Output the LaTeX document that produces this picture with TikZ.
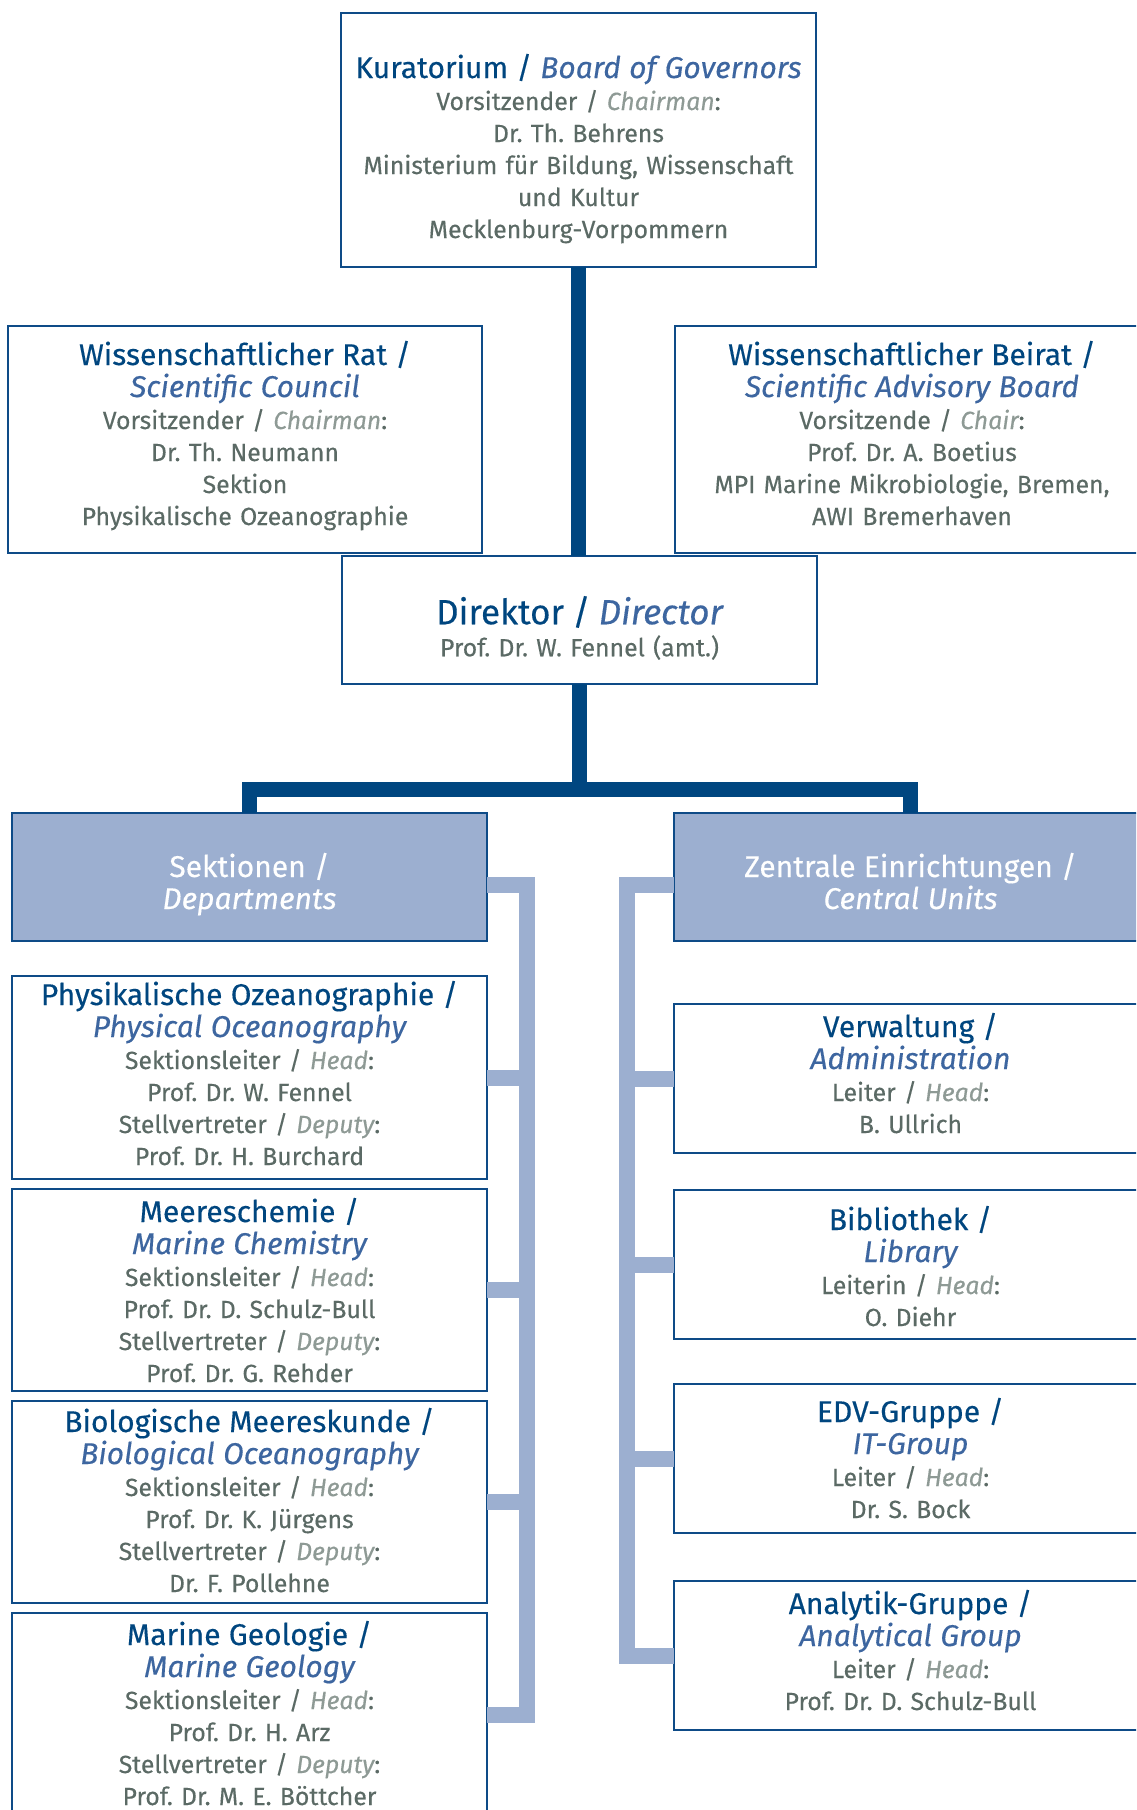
\documentclass[tikz,border=0pt]{standalone}
\usepackage{fontspec}
\setmainfont{Fira Sans}[UprightFeatures={FakeBold=0.3},ItalicFeatures={FakeBold=0.3}]
\setlength\parindent{0pt}
\frenchspacing
\definecolor{tblue}{HTML}{00467F}
\definecolor{iblue}{HTML}{3D66A0}
\definecolor{gtxt}{HTML}{5B6A65}
\definecolor{gital}{HTML}{8E9A95}
\definecolor{bord}{HTML}{0E4B87}
\definecolor{dblue}{HTML}{004680}
\definecolor{lblue}{HTML}{9CAFD0}
\newcommand\tsz{\fontsize{30}{32}\selectfont}
\newcommand\bsz{\fontsize{24.8}{32}\selectfont}
\newcommand\dsz{\fontsize{35}{32}\selectfont}
\newcommand\ttx[1]{{\tsz\color{tblue}#1}}
\newcommand\itx[1]{{\tsz\color{iblue}\itshape #1}}
\newcommand\gtx[1]{{\color{gital}\itshape #1}}
% box: name, style, x1, y1, x2, y2
\newcommand\mkbox[6]{\node[#2, minimum width={(#5)-(#3)}, minimum height={(#6)-(#4)}] (#1) at ({(#3+#5)/2},{(#4+#6)/2}) {};}
% text: name, x centre, first baseline, content
\newcommand\mktxt[4]{\node[txt] (#1) at (#2,{#3-26}) {\frenchspacing\lineskiplimit=-60pt\rule{0pt}{26pt}#4};}
\begin{document}
\begin{tikzpicture}[x=1pt,y=-1pt,
  box/.style={draw=bord, line width=2pt, fill=white, inner sep=0pt, outer sep=0pt},
  hbox/.style={box, fill=lblue},
  txt/.style={anchor=north, inner sep=0pt, outer sep=0pt, align=center, text width=470pt, font=\bsz, text=gtxt},
  wtxt/.style={txt, text=white},
  dark/.style={draw=dblue, line width=15pt},
  light/.style={draw=lblue, line width=16pt}]
\useasboundingbox (0,0) rectangle (1136,1810);
\clip (0,0) rectangle (1136,1810);
% boxes
\mkbox{k}{box}{341}{13}{816}{267}
\mkbox{rat}{box}{8}{326}{482}{553}
\mkbox{bei}{box}{675}{326}{1149}{553}
\mkbox{dir}{box}{342}{556}{817}{684}
\mkbox{sek}{hbox}{12}{813}{487}{941}
\mkbox{zen}{hbox}{674}{813}{1147}{941}
\mkbox{po}{box}{12}{976}{487}{1179}
\mkbox{mc}{box}{12}{1189}{487}{1391}
\mkbox{bo}{box}{12}{1401}{487}{1603}
\mkbox{mg}{box}{12}{1613}{487}{1816}
\mkbox{vw}{box}{674}{1004}{1147}{1153}
\mkbox{bib}{box}{674}{1190}{1147}{1339}
\mkbox{edv}{box}{674}{1384}{1147}{1533}
\mkbox{ana}{box}{674}{1581}{1147}{1730}
% texts
\mktxt{kt}{578.5}{78}{\ttx{Kuratorium /} \itx{Board of Governors}\\Vorsitzender / \gtx{Chairman}:\\Dr. Th. Behrens\\Ministerium für Bildung, Wissenschaft\\und Kultur\\Mecklenburg-Vorpommern}
\mktxt{ratt}{245}{365}{\ttx{Wissenschaftlicher Rat /}\\\itx{Scientific Council}\\Vorsitzender / \gtx{Chairman}:\\Dr. Th. Neumann\\Sektion\\Physikalische Ozeanographie}
\mktxt{beit}{912}{365}{\ttx{Wissenschaftlicher Beirat /}\\\itx{Scientific Advisory Board}\\Vorsitzende / \gtx{Chair}:\\Prof. Dr. A. Boetius\\MPI Marine Mikrobiologie, Bremen,\\AWI Bremerhaven}
\mktxt{dirt}{579.5}{622}{{\dsz\color{tblue}Direktor /} {\dsz\color{iblue}\itshape Director}\\Prof. Dr. W. Fennel (amt.)}
\node[wtxt] (sekt) at (249.5,{877-26}) {\lineskiplimit=-60pt\rule{0pt}{26pt}{\tsz Sektionen /}\\{\tsz\itshape Departments}};
\node[wtxt] (zent) at (910.5,{877-26}) {\lineskiplimit=-60pt\rule{0pt}{26pt}{\tsz Zentrale Einrichtungen /}\\{\tsz\itshape Central Units}};
\mktxt{pot}{249.5}{1005}{\ttx{Physikalische Ozeanographie /}\\\itx{Physical Oceanography}\\Sektionsleiter / \gtx{Head}:\\Prof. Dr. W. Fennel\\Stellvertreter / \gtx{Deputy}:\\Prof. Dr. H. Burchard}
\mktxt{mct}{249.5}{1222}{\ttx{Meereschemie /}\\\itx{Marine Chemistry}\\Sektionsleiter / \gtx{Head}:\\Prof. Dr. D. Schulz-Bull\\Stellvertreter / \gtx{Deputy}:\\Prof. Dr. G. Rehder}
\mktxt{bot}{249.5}{1432}{\ttx{Biologische Meereskunde /}\\\itx{Biological Oceanography}\\Sektionsleiter / \gtx{Head}:\\Prof. Dr. K. Jürgens\\Stellvertreter / \gtx{Deputy}:\\Dr. F. Pollehne}
\mktxt{mgt}{249.5}{1645}{\ttx{Marine Geologie /}\\\itx{Marine Geology}\\Sektionsleiter / \gtx{Head}:\\Prof. Dr. H. Arz\\Stellvertreter / \gtx{Deputy}:\\Prof. Dr. M. E. Böttcher}
\mktxt{vwt}{910.5}{1037}{\ttx{Verwaltung /}\\\itx{Administration}\\Leiter / \gtx{Head}:\\B. Ullrich}
\mktxt{bibt}{910.5}{1230}{\ttx{Bibliothek /}\\\itx{Library}\\Leiterin / \gtx{Head}:\\O. Diehr}
\mktxt{edvt}{910.5}{1422}{\ttx{EDV-Gruppe /}\\\itx{IT-Group}\\Leiter / \gtx{Head}:\\Dr. S. Bock}
\mktxt{anat}{910.5}{1614}{\ttx{Analytik-Gruppe /}\\\itx{Analytical Group}\\Leiter / \gtx{Head}:\\Prof. Dr. D. Schulz-Bull}
% dark connectors
\coordinate (bar) at (578.5,789.5);
\draw[dark] (k.south) -- (k.south |- dir.north);
\draw[dark] (dir.south) -- (dir.south |- bar);
\draw[dark] (sek.north) |- (bar) -| (zen.north);
% light connectors
\coordinate (lv) at (527,0);
\coordinate (rv) at (627,0);
\draw[light] ([yshift=-8pt]sek.east) -| (lv |- mg.east) -- (mg.east);
\draw[light] (po.east) -- (po.east -| lv);
\draw[light] (mc.east) -- (mc.east -| lv);
\draw[light] (bo.east) -- (bo.east -| lv);
\draw[light] ([yshift=-8pt]zen.west) -| (rv |- ana.west) -- (ana.west);
\draw[light] (vw.west) -- (vw.west -| rv);
\draw[light] (bib.west) -- (bib.west -| rv);
\draw[light] (edv.west) -- (edv.west -| rv);
\end{tikzpicture}
\end{document}
